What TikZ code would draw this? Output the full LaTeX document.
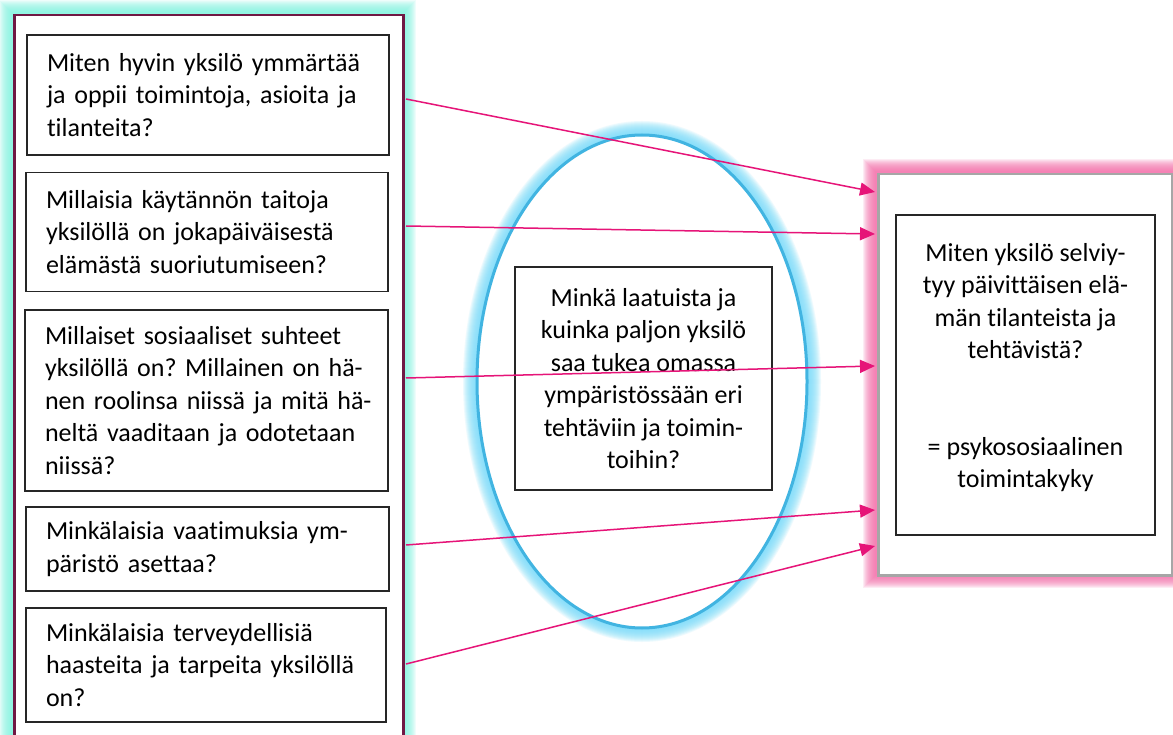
\documentclass[tikz,border=0pt]{standalone}
\usepackage{fontspec}
\setmainfont{Carlito}[Ligatures={NoCommon,NoContextual}]
\usetikzlibrary{arrows.meta,shapes.geometric}
\definecolor{glowcyan}{RGB}{130,245,225}
\definecolor{framemaroon}{RGB}{112,24,68}
\definecolor{ellline}{RGB}{65,180,225}
\definecolor{ellglow}{RGB}{120,220,250}
\definecolor{rgray}{RGB}{166,166,166}
\definecolor{pinkglow}{RGB}{245,110,170}
\definecolor{arrowpink}{RGB}{230,20,120}
\tikzset{
  qbox/.style={draw=black!85, line width=1.2pt, fill=white, rectangle, inner xsep=20pt, inner ysep=0pt,
    align=left, font=\fontsize{26}{32.5}\selectfont\frenchspacing},
  cbox/.style={draw=black!85, line width=1.2pt, fill=white, rectangle, inner sep=0pt},
  ctext/.style={align=center, font=\fontsize{26}{32.5}\selectfont\frenchspacing, inner sep=0pt},
  link/.style={draw=arrowpink, line width=1.5pt, -{Triangle[length=15pt,width=13pt]}},
}
\begin{document}
\begin{tikzpicture}[x=1pt,y=-1pt]
\useasboundingbox (0,0) rectangle (1173,735);
\clip (0,0) rectangle (1173,735);
\fill[white] (0,0) rectangle (1173,735);
% glows
\foreach \w in {28,26,...,4}{
  \draw[glowcyan, line width=\w pt, opacity=0.13] (13,14) rectangle (402,760);
  \draw[ellglow, line width=\w pt, opacity=0.13] (642,381.5) ellipse [x radius=165, y radius=246.5];
  \draw[pinkglow, line width=\w pt, opacity=0.13] (877,173) rectangle (1171,574);
}
% left frame
\node[draw=framemaroon, line width=2.5pt, fill=white, rectangle, minimum width=389pt, minimum height=746pt, inner sep=0pt, anchor=north west] (frame) at (13,14) {};
% ellipse
\node[draw=ellline, line width=3pt, fill=white, ellipse, minimum width=330pt, minimum height=493pt, inner sep=0pt] (ell) at (642,381.5) {};
% right outer box
\node[draw=rgray, line width=2.5pt, fill=white, rectangle, minimum width=294pt, minimum height=401pt, inner sep=0pt, anchor=north west] (rout) at (877,173) {};

% question boxes
\node[qbox, minimum height=120pt, text width=322pt] (b1) at (208,95)
  {\mbox{Miten hyvin yksilö ymmärtää}\\\mbox{ja oppii toimintoja, asioita ja}\\\mbox{tilanteita?}};
\node[qbox, minimum height=119pt, text width=322pt] (b2) at (207,232)
  {\mbox{Millaisia käytännön taitoja}\\\mbox{yksilöllä on jokapäiväisestä}\\\mbox{elämästä suoriutumiseen?}};
\node[qbox, minimum height=181pt, text width=323pt] (b3) at (206.5,400.5)
  {\mbox{Millaiset sosiaaliset suhteet}\\\mbox{yksilöllä on? Millainen on hä-}\\\mbox{nen roolinsa niissä ja mitä hä-}\\\mbox{neltä vaaditaan ja odotetaan}\\\mbox{niissä?}};
\node[qbox, minimum height=84pt, text width=323pt] (b4) at (207.5,549)
  {\mbox{Minkälaisia vaatimuksia ym-}\\\mbox{päristö asettaa?}};
\node[qbox, minimum height=114pt, text width=320pt] (b5) at (206,665)
  {\mbox{Minkälaisia terveydellisiä}\\\mbox{haasteita ja tarpeita yksilöllä}\\\mbox{on?}};

% middle box
\node[cbox, minimum width=257pt, minimum height=223pt] (mbox) at (643.5,378.5) {};
\node[ctext] (mtext) at (643.5,378.5)
  {Minkä laatuista ja\\kuinka paljon yksilö\\saa tukea omassa\\ympäristössään eri\\tehtäviin ja toimin-\\toihin?};

% right inner box
\node[cbox, minimum width=259pt, minimum height=320pt] (rin) at (1025.5,375) {};
\node[ctext] (rtext) at (1025.5,367.5)
  {Miten yksilö selviy-\\tyy päivittäisen elä-\\män tilanteista ja\\tehtävistä?\\[64pt]= psykososiaalinen\\toimintakyky};

% connectors
\coordinate (s1) at (406,99);   \coordinate (e1) at (875,192);
\coordinate (s2) at (406,226);  \coordinate (e2) at (875,234);
\coordinate (s3) at (406,378);  \coordinate (e3) at (875,366);
\coordinate (s4) at (406,545);  \coordinate (e4) at (875,510);
\coordinate (s5) at (406,664);  \coordinate (e5) at (875,546);
\draw[link] (s1) -- (e1);
\draw[link] (s2) -- (e2);
\draw[link] (s3) -- (e3);
\draw[link] (s4) -- (e4);
\draw[link] (s5) -- (e5);
\end{tikzpicture}
\end{document}
